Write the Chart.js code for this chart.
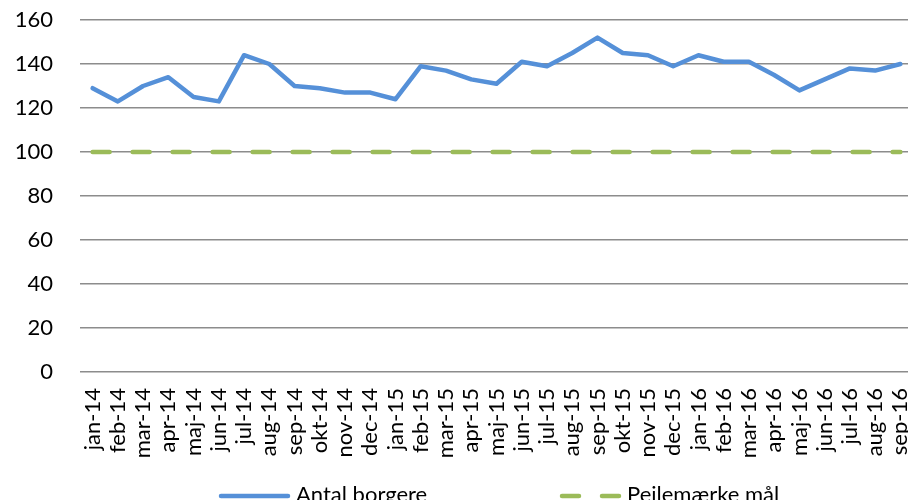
<!DOCTYPE html>
<html>
<head>
<meta charset="utf-8">
<script src="https://cdn.jsdelivr.net/npm/chart.js@4.4.1/dist/chart.umd.min.js"></script>
<style>
  html, body { margin: 0; padding: 0; background: #fff; overflow: hidden; }
  #wrap { width: 908px; height: 500px; overflow: hidden; position: relative; }
  canvas { display: block; }
</style>
</head>
<body>
<div id="wrap"><canvas id="chart" width="913" height="500"></canvas></div>
<script>
// ===============================
// DATA
// ===============================
const months = [
  "jan-14", "feb-14", "mar-14", "apr-14", "maj-14", "jun-14", "jul-14", "aug-14", "sep-14", "okt-14", "nov-14", "dec-14",
  "jan-15", "feb-15", "mar-15", "apr-15", "maj-15", "jun-15", "jul-15", "aug-15", "sep-15", "okt-15", "nov-15", "dec-15",
  "jan-16", "feb-16", "mar-16", "apr-16", "maj-16", "jun-16", "jul-16", "aug-16", "sep-16"
]
const antalBorgere = [
  129, 123, 130, 134, 125, 123, 144, 140, 130, 129, 127, 127,
  124, 139, 137, 133, 131, 141, 139, 145, 152, 145, 144, 139,
  144, 141, 141, 135, 128, 133, 138, 137, 140
]
const pejlemaerke = [
  100, 100, 100, 100, 100, 100, 100, 100, 100, 100, 100, 100,
  100, 100, 100, 100, 100, 100, 100, 100, 100, 100, 100, 100,
  100, 100, 100, 100, 100, 100, 100, 100, 100
]
const yTicks = [0, 20, 40, 60, 80, 100, 120, 140, 160]

const BLUE = "#5590d8"
const GREEN = "#9bbb59"
const FONT = "Lato, 'Open Sans', sans-serif"

Chart.defaults.font.family = FONT
Chart.defaults.color = "#000"

// ===============================
// LEGEND (drawn below the axis labels, like the original)
// ===============================
const legendSpots = [
  { x: 219, len: 71 },
  { x: 560, len: 61 }
]

const bottomLegend = {
  id: "bottomLegend",
  afterDraw(chart) {
    const ctx = chart.ctx
    const y = 496
    chart.data.datasets.forEach((ds, i) => {
      const spot = legendSpots[i]
      if (!spot) return
      ctx.save()
      ctx.strokeStyle = ds.borderColor
      ctx.lineWidth = ds.borderWidth
      ctx.lineCap = ds.borderCapStyle || "butt"
      ctx.setLineDash(ds.borderDash || [])
      ctx.beginPath()
      ctx.moveTo(spot.x + 2, y)
      ctx.lineTo(spot.x + spot.len - 2, y)
      ctx.stroke()
      ctx.setLineDash([])
      ctx.fillStyle = "#000"
      ctx.font = "22px " + FONT
      ctx.textBaseline = "middle"
      ctx.textAlign = "left"
      ctx.fillText(ds.label, spot.x + spot.len + 6, y - 1)
      ctx.restore()
    })
  }
}

// ===============================
// CHART
// ===============================
const ctx = document.getElementById("chart").getContext("2d")

new Chart(ctx, {
  type: "line",
  data: {
    labels: months,
    datasets: [
      {
        label: "Antal borgere",
        data: antalBorgere,
        borderColor: BLUE,
        backgroundColor: BLUE,
        borderWidth: 4.5,
        borderCapStyle: "round",
        borderJoinStyle: "round",
        pointRadius: 0,
        tension: 0,
        fill: false
      },
      {
        label: "Pejlemærke mål",
        data: pejlemaerke,
        borderColor: GREEN,
        backgroundColor: GREEN,
        borderWidth: 4.5,
        borderDash: [17, 23],
        borderCapStyle: "round",
        pointRadius: 0,
        tension: 0,
        fill: false
      }
    ]
  },
  options: {
    responsive: false,
    animation: false,
    layout: { padding: { top: 20, right: 0, bottom: 0, left: 0 } },
    plugins: {
      legend: { display: false },
      tooltip: { enabled: false }
    },
    scales: {
      x: {
        offset: true,
        grid: { display: false, drawTicks: false },
        border: { display: false },
        ticks: {
          autoSkip: false,
          maxRotation: 90,
          minRotation: 90,
          padding: 16,
          font: { size: 22 },
          color: "#000"
        },
        afterFit(scale) {
          scale.height = 128
          scale.paddingLeft = 0
          scale.paddingRight = 0
        }
      },
      y: {
        min: 0,
        max: 160,
        afterBuildTicks(scale) {
          scale.ticks = yTicks.map(v => ({ value: v }))
        },
        grid: {
          color: "#8c8c8c",
          lineWidth: 1.5,
          drawTicks: false
        },
        border: { display: false },
        ticks: {
          padding: 27,
          font: { size: 22 },
          color: "#000"
        },
        afterFit(scale) {
          scale.width = 80
          scale.paddingTop = 0
          scale.paddingBottom = 0
        }
      }
    }
  },
  plugins: [bottomLegend]
})
</script>
</body>
</html>
